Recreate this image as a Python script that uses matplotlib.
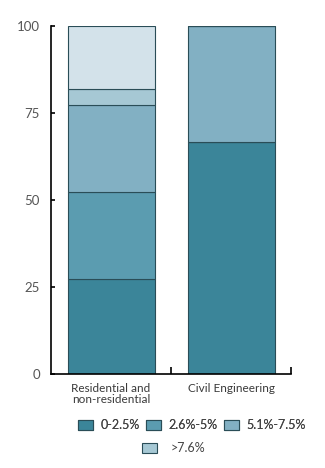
import matplotlib
matplotlib.use("Agg")
import matplotlib.pyplot as plt
from matplotlib.patches import Patch
import numpy as np

plt.rcParams['font.family'] = ['Lato', 'DejaVu Sans']

categories = ["Residential and\nnon-residential", "Civil Engineering"]
series_labels = ["0-2.5%", "2.6%-5%", "5.1%-7.5%", ">7.6%", None]
s_0_25 = [27.3, 66.7]
s_26_5 = [25.0, 0.0]
s_51_75 = [25.0, 33.3]
s_gt76 = [4.5, 0.0]
s_other = [18.2, 0.0]
yticks = [0, 25, 50, 75, 100]

colors = ["#3b8599", "#5b9cb0", "#82b0c3", "#a6c8d4", "#d3e2ea"]
series = [s_0_25, s_26_5, s_51_75, s_gt76, s_other]

fig = plt.figure(figsize=(3.25, 4.68), dpi=100)
ax = fig.add_axes([51/325, 1-374/468, 240/325, 348/468])

x = np.arange(len(categories))
bottom = np.zeros(len(categories))
for vals, c in zip(series, colors):
    vals = np.array(vals)
    ax.bar(x, vals, bottom=bottom, width=0.725, color=c, edgecolor="#2a4d57", linewidth=0.8)
    bottom += vals

ax.set_xlim(-0.5, 1.5)
ax.set_ylim(0, 100)
for s in ["top", "right"]:
    ax.spines[s].set_visible(False)
for s in ["left", "bottom"]:
    ax.spines[s].set_linewidth(1.2)
    ax.spines[s].set_color("black")

ax.set_yticks(yticks)
ax.set_yticklabels([str(v) for v in yticks])
ax.tick_params(axis='y', direction='in', length=3, width=1.2, colors='black', labelcolor='#555555', labelsize=9.5, pad=8)

ax.set_xticks([0.5, 1.5])
ax.set_xticklabels(["", ""])
ax.tick_params(axis='x', direction='in', length=5, width=1.2, colors='black')
for xi, lab in zip(x, categories):
    ax.text(xi, -2.5, lab, ha='center', va='top', fontsize=8.5, color='#3a3a3a', linespacing=1.05,
            transform=ax.transData, clip_on=False)

handles = [Patch(facecolor=c, edgecolor="#2a4d57", linewidth=0.8, label=l)
           for c, l in zip(colors[:4], series_labels[:4])]
leg1 = fig.legend(handles=handles[:3], loc='center', bbox_to_anchor=(0.591, 1-425/468), ncol=3,
                  frameon=False, fontsize=9, handlelength=1.2, handleheight=0.85, handletextpad=0.6,
                  columnspacing=0.5, labelcolor='#444444', borderpad=0)
fig.add_artist(leg1)
leg2 = fig.legend(handles=handles[3:], loc='center', bbox_to_anchor=(0.535, 1-448/468), ncol=1,
                  frameon=False, fontsize=9, handlelength=1.2, handleheight=0.85, handletextpad=1.1,
                  labelcolor='#444444', borderpad=0)

fig.savefig("out.png", dpi=100)
